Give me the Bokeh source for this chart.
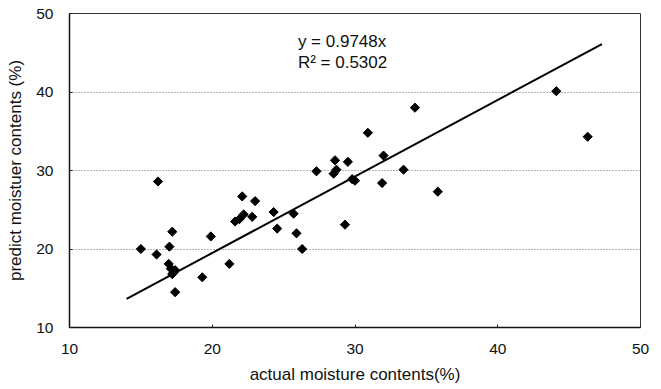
import numpy as np
from bokeh.plotting import figure
from bokeh.models import Range1d, FixedTicker
from bokeh.core.properties import value
from bokeh.embed import file_html
from bokeh.resources import INLINE

# Data
actual = [15.0, 16.1, 16.2, 17.2, 17.0, 16.95, 17.1, 17.4, 17.2, 17.3, 17.4,
          19.3, 19.9, 21.2, 22.1, 23.0, 21.6, 21.9, 22.2, 22.8, 24.3, 24.55,
          25.7, 25.9, 26.3, 27.3, 28.6, 28.7, 28.5, 29.5, 29.3, 29.8, 30.0,
          30.9, 32.0, 31.9, 33.4, 34.2, 35.8, 44.1, 46.3]
predict = [20.0, 19.3, 28.6, 22.2, 20.3, 18.1, 17.5, 17.3, 16.8, 17.0, 14.5,
           16.4, 21.6, 18.1, 26.7, 26.1, 23.5, 23.8, 24.4, 24.1, 24.7, 22.6,
           24.5, 22.0, 20.0, 29.9, 31.3, 30.1, 29.6, 31.1, 23.1, 28.9, 28.7,
           34.8, 31.9, 28.4, 30.1, 38.0, 27.3, 40.1, 34.3]
slope = 0.9748
r_squared = 0.5302
trend_x = [14.0, 47.3]
ticks = [10, 20, 30, 40, 50]

FONT = "Liberation Sans"

p = figure(width=661, height=389, output_backend="svg", toolbar_location=None,
           x_range=Range1d(10, 50), y_range=Range1d(10, 50),
           min_border_left=69, min_border_right=21, min_border_top=13,
           min_border_bottom=62)
p.background_fill_color = "white"
p.border_fill_color = "white"
p.outline_line_color = "#333333"
p.outline_line_width = 1

p.xgrid.visible = False
p.ygrid.ticker = FixedTicker(ticks=[20, 30, 40])
p.ygrid.grid_line_color = "#666666"
p.ygrid.grid_line_dash = "1 2"
p.ygrid.grid_line_width = 1

for ax in (p.xaxis[0], p.yaxis[0]):
    ax.ticker = FixedTicker(ticks=ticks)
    ax.minor_tick_line_color = None
    ax.major_tick_out = 0
    ax.major_tick_in = 3
    ax.major_tick_line_color = "#222222"
    ax.axis_line_color = "#111111"
    ax.axis_line_width = 1.5
    ax.major_label_text_font = FONT
    ax.major_label_text_font_size = "15.5px"
    ax.major_label_text_color = "#111111"
    ax.axis_label_text_font = FONT
    ax.axis_label_text_font_size = "17px"
    ax.axis_label_text_font_style = "normal"
    ax.axis_label_text_color = "#111111"

p.xaxis.axis_label = "actual moisture contents(%)"
p.yaxis.axis_label = "predict moistuer contents (%)"
p.xaxis.major_label_standoff = 16
p.xaxis.axis_label_standoff = 8
p.yaxis.major_label_standoff = 16
p.yaxis.axis_label_standoff = 8

# regression line y = slope * x
p.line(trend_x, [slope * v for v in trend_x], line_color="black", line_width=2)

# data points (diamonds)
p.scatter(actual, predict, marker="square", angle=np.pi / 4, size=6.5,
          fill_color="black", line_color="black")

p.text(x=[26.0, 26.0], y=[46.4, 43.7],
       text=[f"y = {slope}x", f"R\u00b2 = {r_squared}"],
       text_font=value(FONT), text_font_size="17px", text_color="#111111",
       text_align="left", text_baseline="middle")

open("out.html", "w").write(file_html(p, INLINE))
